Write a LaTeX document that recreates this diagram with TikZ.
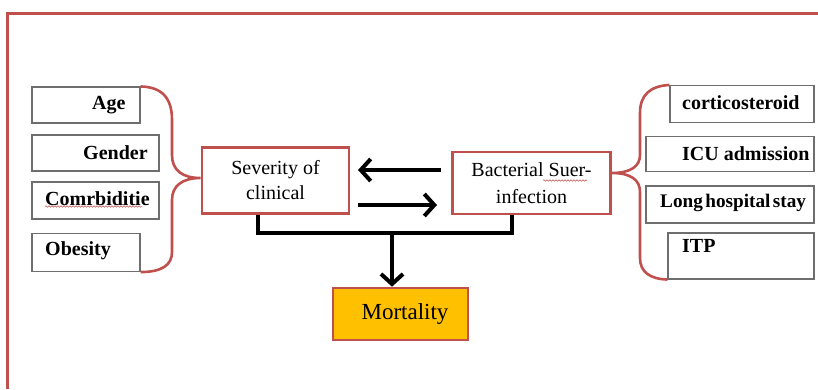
\documentclass[tikz,border=0pt]{standalone}
\usepackage{fontspec}
\setmainfont{Liberation Serif}
\usetikzlibrary{arrows.meta,decorations.pathmorphing}
\definecolor{myred}{RGB}{192,80,77}
\definecolor{mygray}{RGB}{110,110,110}
\definecolor{myorange}{RGB}{255,192,0}
\tikzset{
  factor/.style={draw=mygray, line width=1.1pt, minimum height=#1, inner sep=0pt},
  btext/.style={anchor=west, inner sep=0pt, font=\fontsize{20}{24}\selectfont\bfseries},
  redbox/.style={draw=myred, line width=2.6pt, fill=white, inner sep=0pt, align=center},
  brace/.style={draw=myred, line width=2.6pt},
  bigarrow/.style={line width=4pt, -{Straight Barb[length=10pt, width=22pt]}},
  conn/.style={line width=4pt},
  spell/.style={draw=myred, line width=0.5pt, decorate, decoration={snake, amplitude=0.8pt, segment length=3pt}}
}
\begin{document}
\begin{tikzpicture}[x=1pt, y=-1pt]
\useasboundingbox (0,0) rectangle (818,389);
% frame
\draw[myred, line width=3pt] (818,13) -- (7,13) -- (7,389);

% left factor boxes
\node[factor=36pt, minimum width=108pt] (age) at (86,105) {};
\node[factor=36pt, minimum width=127pt] (gender) at (95.5,153) {};
\node[factor=37pt, minimum width=127pt] (comorb) at (95.5,200.5) {};
\node[factor=38pt, minimum width=108pt] (obes) at (86,252.5) {};
\node[btext] (tage) at (92,105) {Age};
\node[btext] (tgender) at (83,153) {Gender};
\node[btext] (tcomorb) at (45,199) {Comrbiditie};
\node[btext] (tobes) at (45,251) {Obesity};
\draw[spell] (45,206.5) -- (142,206.5);

% right factor boxes
\node[factor=37pt, minimum width=144pt] (cort) at (742,104) {};
\node[factor=35pt, minimum width=168pt] (icu) at (730,154) {};
\node[factor=37pt, minimum width=168pt] (long) at (730,204.5) {};
\node[factor=46pt, minimum width=146pt] (itp) at (741,256) {};
\node[btext] (tcort) at (682,103) {corticosteroid};
\node[btext] (ticu) at (682,154) {ICU admission};
\node[btext, font=\fontsize{19.2}{24}\selectfont\bfseries] (tlong) at (660,203) {Long\hspace{2.5pt}hospital\hspace{2.5pt}stay};
\node[btext] (titp) at (682,246) {ITP};

% central boxes
\node[redbox, minimum width=147pt, minimum height=66pt, font=\fontsize{20}{25}\selectfont] (sev) at (275.5,180.5) {Severity of\\clinical};
\node[redbox, minimum width=158pt, minimum height=62pt, font=\fontsize{20}{27}\selectfont] (bact) at (531.5,183) {Bacterial Suer-\\infection};
\draw[spell] (543,180.5) -- (587,180.5);
\node[draw=myred, line width=2.6pt, fill=myorange, minimum width=135pt, minimum height=52pt, inner sep=0pt, font=\fontsize{23}{27}\selectfont] (mort) at (400.5,314) {\hspace{9pt}Mortality};

% braces
\draw[brace] (age.north east) .. controls (162,87) and (172,98) .. (172,120) -- (172,155)
  .. controls (172,170) and (182,178) .. (sev.west |- 0,178)
  .. controls (182,178) and (172,186) .. (172,200) -- (172,252)
  .. controls (172,265) and (162,272) .. (obes.south east);
\draw[brace] (cort.north west) .. controls (650,86) and (640,95) .. (640,113) -- (640,155)
  .. controls (640,166) and (631,173) .. (bact.east |- 0,173)
  .. controls (631,173) and (640,180) .. (640,192) -- (640,258)
  .. controls (640,272) and (650,279) .. (itp.south west);

% arrows between central boxes
\coordinate (a1s) at (441,170);
\coordinate (a1e) at (358,170);
\coordinate (a2s) at (358,205);
\coordinate (a2e) at (437,205);
\draw[bigarrow] (a1s) -- (a1e);
\draw[bigarrow] (a2s) -- (a2e);

% T connector to mortality
\coordinate (j) at (392,233);
\draw[conn] (sev.south -| 258,0) -- (258,233) -- (512,233) -- (bact.south -| 512,0);
\draw[bigarrow] (j) -- (j |- mort.north);
\end{tikzpicture}
\end{document}
